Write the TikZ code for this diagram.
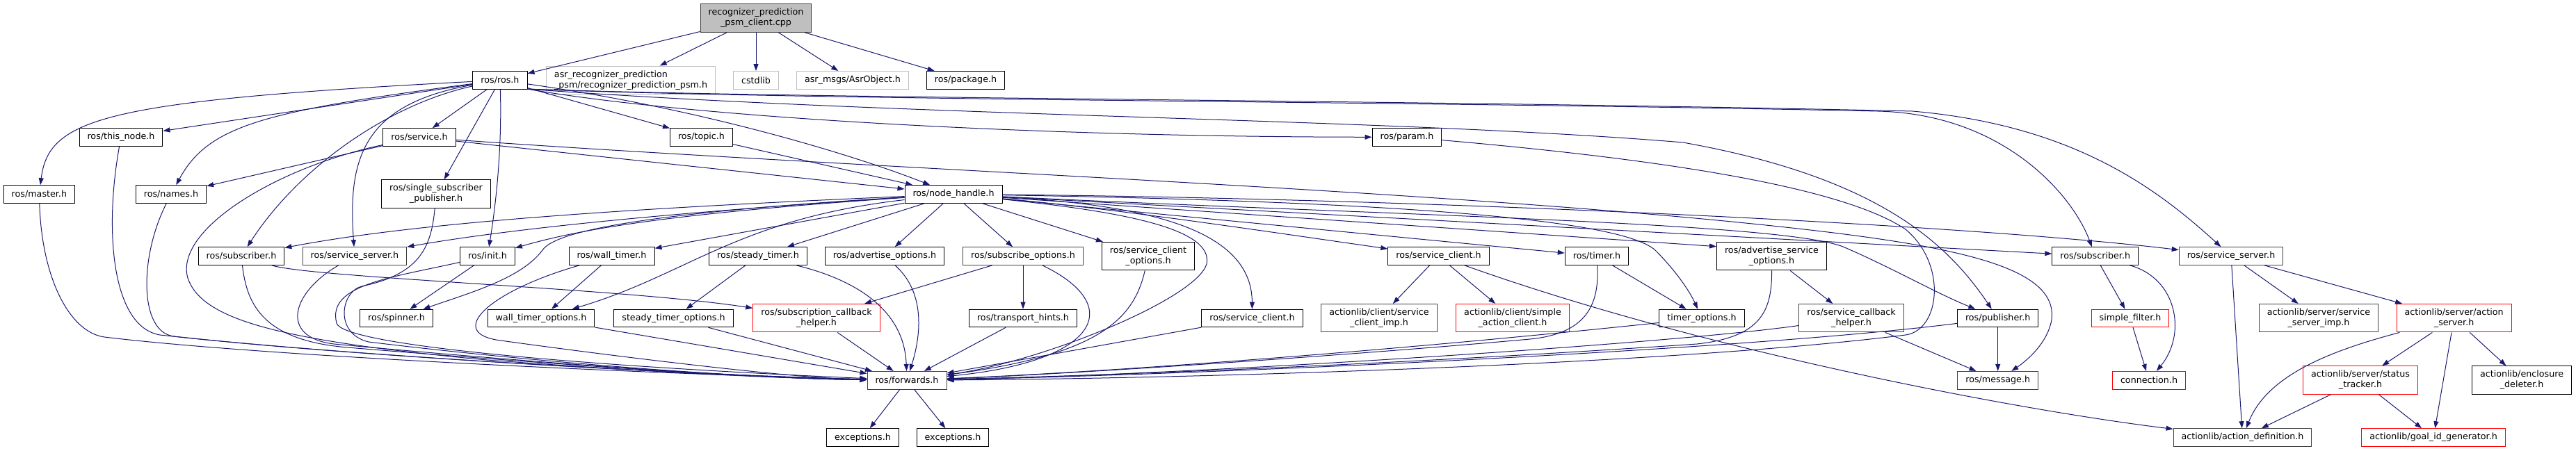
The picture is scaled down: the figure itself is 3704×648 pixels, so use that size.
\documentclass[tikz,border=0pt]{standalone}
\usepackage{fontspec}
\setmainfont{DejaVu Sans}
\usetikzlibrary{arrows.meta}
\definecolor{edgeblue}{HTML}{191970}
\definecolor{greyl}{HTML}{BFBFBF}
\definecolor{greyd}{HTML}{404040}
\begin{document}
\begin{tikzpicture}[x=1pt,y=-1pt,font=\fontsize{12.7}{15}\selectfont,
  box/.style={draw=black,line width=1pt,fill=white,inner xsep=11.5pt,inner ysep=2pt,minimum height=25.6pt,align=center},
  two/.style={minimum height=40.5pt},
  gbox/.style={draw=greyl},
  rbox/.style={draw=red},
  dbox/.style={draw=greyd},
  edge/.style={draw=edgeblue,line width=1pt,-{Triangle[length=10pt,width=7pt]}}]
\useasboundingbox (0,0) rectangle (3704,648);
% row 0
\node[box,dbox,fill=greyl,two] (T) at (1087,26) {recognizer\_prediction\\\_psm\_client.cpp};
% row 1
\node[box] (rosh) at (719,115.3) {ros/ros.h};
\node[box,gbox,two,align=left] (asr) at (907,115.3) {asr\_recognizer\_prediction\\\_psm/recognizer\_prediction\_psm.h};
\node[box,gbox] (cstd) at (1087,115.3) {cstdlib};
\node[box,gbox] (asrobj) at (1226,115.3) {asr\_msgs/AsrObject.h};
\node[box] (pkg) at (1388.5,115.3) {ros/package.h};
% row 2
\node[box] (thisnode) at (174,197.5) {ros/this\_node.h};
\node[box] (service) at (603,197.5) {ros/service.h};
\node[box] (topic) at (1008.5,197.3) {ros/topic.h};
\node[box] (param) at (2023,197.3) {ros/param.h};
% row 3
\node[box] (master) at (56.4,279.5) {ros/master.h};
\node[box] (names) at (246,279.5) {ros/names.h};
\node[box,two] (ssp) at (627,279) {ros/single\_subscriber\\\_publisher.h};
\node[box] (nh) at (1371,279.5) {ros/node\_handle.h};
% row 4
\node[box] (subL) at (347,368.5) {ros/subscriber.h};
\node[box,dbox] (ssL) at (510,368.5) {ros/service\_server.h};
\node[box] (init) at (701,368.5) {ros/init.h};
\node[box] (walltimer) at (879.5,368.5) {ros/wall\_timer.h};
\node[box] (steadytimer) at (1090,368.5) {ros/steady\_timer.h};
\node[box] (advopt) at (1272,368.5) {ros/advertise\_options.h};
\node[box,dbox] (subopt) at (1471,368.5) {ros/subscribe\_options.h};
\node[box,two] (scopt) at (1651,368.7) {ros/service\_client\\\_options.h};
\node[box] (scU) at (2068.5,368.5) {ros/service\_client.h};
\node[box] (timer) at (2296,368.5) {ros/timer.h};
\node[box,two] (asopt) at (2547.4,368.7) {ros/advertise\_service\\\_options.h};
\node[box] (subR) at (3012.7,368.5) {ros/subscriber.h};
\node[box,dbox] (ssR) at (3208,368.5) {ros/service\_server.h};
% row 5
\node[box] (spinner) at (570,458) {ros/spinner.h};
\node[box] (wto) at (778,458) {wall\_timer\_options.h};
\node[box] (sto) at (968.5,458) {steady\_timer\_options.h};
\node[box,rbox,two] (sch) at (1174,457.7) {ros/subscription\_callback\\\_helper.h};
\node[box] (th) at (1471,458) {ros/transport\_hints.h};
\node[box] (scL) at (1800.5,458) {ros/service\_client.h};
\node[box,dbox,two] (csci) at (1983,457.7) {actionlib/client/service\\\_client\_imp.h};
\node[box,rbox,two] (sac) at (2175,457.7) {actionlib/client/simple\\\_action\_client.h};
\node[box] (tmo) at (2447,458) {timer\_options.h};
\node[box,dbox,two] (scbh) at (2662,457.7) {ros/service\_callback\\\_helper.h};
\node[box] (pub) at (2872.7,458) {ros/publisher.h};
\node[box,rbox] (sf) at (3063,458) {simple\_filter.h};
\node[box,dbox,two] (ssi) at (3334,457.7) {actionlib/server/service\\\_server\_imp.h};
\node[box,rbox,two] (as) at (3528.6,457.7) {actionlib/server/action\\\_server.h};
% row 6
\node[box,dbox] (fwd) at (1304,547.2) {ros/forwards.h};
\node[box,dbox] (msg) at (2872.7,547.2) {ros/message.h};
\node[box,rbox] (conn) at (3090,547.2) {connection.h};
\node[box,rbox,two] (st) at (3394,547) {actionlib/server/status\\\_tracker.h};
\node[box,two] (ed) at (3626,547) {actionlib/enclosure\\\_deleter.h};
% row 7
\node[box] (exL) at (1240.5,629.5) {exceptions.h};
\node[box] (exR) at (1370,629.5) {exceptions.h};
\node[box,dbox] (ad) at (3224.5,629.5) {actionlib/action\_definition.h};
\node[box,rbox] (gid) at (3499,629.5) {actionlib/goal\_id\_generator.h};

% ---- edges: top node
\draw[edge] (T) -- (rosh);
\draw[edge] (T) -- (asr);
\draw[edge] (T) -- (cstd);
\draw[edge] (T) -- (asrobj);
\draw[edge] (T) -- (pkg);
% ---- ros.h
\draw[edge] (rosh) -- (thisnode);
\draw[edge] (rosh) .. controls (150,145) and (70,170) .. (master);
\draw[edge] (rosh) .. controls (380,160) and (300,180) .. (names);
\draw[edge] (rosh) -- (service);
\draw[edge] (rosh) -- (ssp);
\draw[edge] (rosh) .. controls (722,220) and (712,300) .. (init);
\draw[edge] (rosh) .. controls (560,150) and (430,240) .. (subL);
\draw[edge] (rosh) .. controls (520,150) and (500,230) .. (ssL);
\draw[edge] (rosh) -- (topic);
\draw[edge] (rosh) .. controls (1000,155) and (1220,220) .. (nh);
\draw[edge] (rosh.-18) .. controls (1000,170) and (1500,197) .. (param);
\draw[edge] (rosh.-18) .. controls (1300,168) and (2000,170) .. (2420,205) .. controls (2700,255) and (2800,350) .. (pub);
\draw[edge] (rosh.-18) .. controls (1200,145) and (2000,145) .. (2700,160) .. controls (2880,164) and (2980,280) .. (subR);
\draw[edge] (rosh.-18) .. controls (1200,143) and (2000,143) .. (2750,160) .. controls (2980,180) and (3100,270) .. (ssR);
% ---- service.h, topic.h, param.h
\draw[edge] (service) -- (names);
\draw[edge] (service) -- (nh);
\draw[edge] (service) .. controls (400,240) and (250,330) .. (270,400) .. controls (290,460) and (400,490) .. (700,518) .. controls (1000,540) and (1150,545) .. (fwd);
\draw[edge] (service) .. controls (1200,240) and (2000,270) .. (2500,320) .. controls (2800,350) and (2960,380) .. (2950,460) .. controls (2945,490) and (2920,515) .. (msg);
\draw[edge] (topic) -- (nh);
\draw[edge] (param) .. controls (2400,230) and (2650,270) .. (2740,330) .. controls (2800,380) and (2790,475) .. (2740,482) .. controls (2400,525) and (1700,545) .. (fwd);
% ---- node_handle.h
\draw[edge] (nh) .. controls (900,300) and (600,320) .. (subL);
\draw[edge] (nh) .. controls (900,310) and (700,335) .. (ssL);
\draw[edge] (nh) .. controls (1000,305) and (850,325) .. (init);
\draw[edge] (nh) .. controls (950,305) and (800,330) .. (780,360) .. controls (750,400) and (680,420) .. (spinner);
\draw[edge] (nh) -- (walltimer);
\draw[edge] (nh) .. controls (1060,315) and (990,395) .. (wto);
\draw[edge] (nh) -- (steadytimer);
\draw[edge] (nh) -- (advopt);
\draw[edge] (nh) -- (subopt);
\draw[edge] (nh) -- (scopt);
\draw[edge] (nh) .. controls (1620,305) and (1745,330) .. (1735,380) .. controls (1720,430) and (1500,520) .. (fwd);
\draw[edge] (nh) .. controls (1650,295) and (1800,330) .. (scL);
\draw[edge] (nh) .. controls (1600,300) and (1800,330) .. (scU);
\draw[edge] (nh) -- (timer);
\draw[edge] (nh) .. controls (2000,290) and (2330,315) .. (2380,360) .. controls (2410,390) and (2430,420) .. (tmo);
\draw[edge] (nh) -- (asopt.170);
\draw[edge] (nh) .. controls (2000,310) and (2560,320) .. (2650,355) .. controls (2720,385) and (2780,420) .. (pub);
\draw[edge] (nh) -- (subR);
\draw[edge] (nh) .. controls (2000,285) and (2800,320) .. (ssR);
% ---- left side to forwards
\draw[edge] (master) .. controls (60,400) and (100,478) .. (150,485) .. controls (400,515) and (1000,540) .. (fwd);
\draw[edge] (thisnode) .. controls (150,330) and (160,470) .. (230,482) .. controls (500,512) and (1000,540) .. (fwd);
\draw[edge] (names) .. controls (200,370) and (200,478) .. (250,484) .. controls (500,512) and (1000,540) .. (fwd);
\draw[edge] (ssp) .. controls (620,360) and (600,395) .. (520,412) .. controls (490,420) and (480,480) .. (530,492) .. controls (800,525) and (1100,545) .. (fwd);
\draw[edge] (subL) .. controls (450,400) and (900,415) .. (sch);
\draw[edge] (subL) .. controls (355,440) and (380,490) .. (500,500) .. controls (800,525) and (1100,545) .. (fwd);
\draw[edge] (ssL) .. controls (420,420) and (400,485) .. (480,495) .. controls (800,525) and (1100,545) .. (fwd);
\draw[edge] (init) -- (spinner);
\draw[edge] (init) .. controls (560,400) and (470,410) .. (484,465) .. controls (492,495) and (800,525) .. (fwd);
\draw[edge] (walltimer) -- (wto);
\draw[edge] (walltimer) .. controls (700,420) and (640,480) .. (720,490) .. controls (900,515) and (1150,545) .. (fwd);
\draw[edge] (wto) -- (fwd);
\draw[edge] (steadytimer) -- (sto);
\draw[edge] (sto) -- (fwd);
\draw[edge] (steadytimer) .. controls (1220,400) and (1300,440) .. (fwd);
\draw[edge] (sch) -- (fwd);
\draw[edge] (advopt) .. controls (1330,420) and (1325,480) .. (fwd);
\draw[edge] (subopt) -- (sch);
\draw[edge] (subopt) -- (th);
\draw[edge] (subopt) .. controls (1620,440) and (1580,520) .. (fwd);
\draw[edge] (th) -- (fwd);
\draw[edge] (scopt) .. controls (1630,460) and (1580,510) .. (fwd);
\draw[edge] (scL) -- (fwd);
% ---- right side
\draw[edge] (scU) -- (csci);
\draw[edge] (scU) -- (sac);
\draw[edge] (scU) .. controls (2450,505) and (2900,590) .. (ad);
\draw[edge] (timer) -- (tmo);
\draw[edge] (timer) .. controls (2300,440) and (2280,480) .. (2200,488) .. controls (1900,515) and (1500,540) .. (fwd);
\draw[edge] (tmo) .. controls (2000,505) and (1600,535) .. (fwd);
\draw[edge] (asopt) -- (scbh);
\draw[edge] (asopt) .. controls (2548,450) and (2530,485) .. (2440,495) .. controls (2000,525) and (1600,540) .. (fwd);
\draw[edge] (scbh) .. controls (2400,495) and (1700,540) .. (fwd);
\draw[edge] (scbh) -- (msg);
\draw[edge] (pub) -- (msg);
\draw[edge] (pub) .. controls (2500,505) and (1700,540) .. (fwd);
\draw[edge] (fwd) -- (exL);
\draw[edge] (fwd) -- (exR);
\draw[edge] (subR) -- (sf);
\draw[edge] (subR) .. controls (3130,400) and (3145,480) .. (conn);
\draw[edge] (sf) -- (conn);
\draw[edge] (ssR) -- (ad);
\draw[edge] (ssR) -- (ssi);
\draw[edge] (ssR) -- (as);
\draw[edge] (as) .. controls (3350,505) and (3260,540) .. (ad);
\draw[edge] (as) -- (st);
\draw[edge] (as) -- (gid);
\draw[edge] (as) -- (ed);
\draw[edge] (st) -- (ad);
\draw[edge] (st) -- (gid);
\end{tikzpicture}
\end{document}
